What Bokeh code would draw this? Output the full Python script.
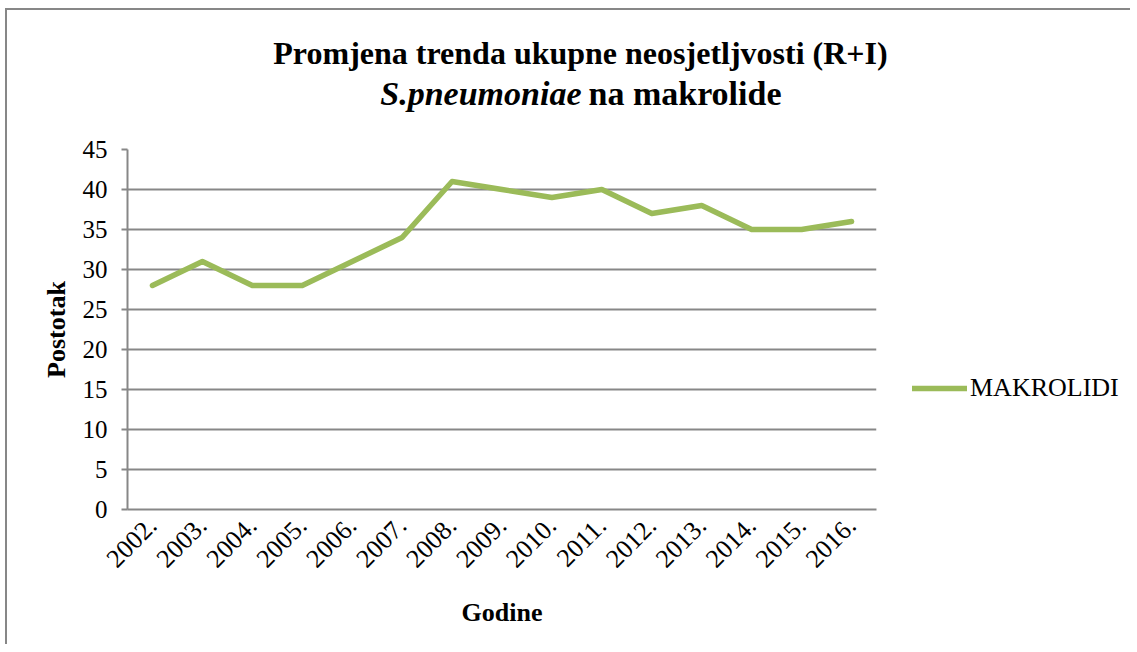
import math
from bokeh.plotting import figure
from bokeh.models import (FactorRange, Range1d, FixedTicker, Legend, LegendItem,
                          Label, ColumnDataSource)
from bokeh.embed import file_html
from bokeh.resources import INLINE

years = ["2002.", "2003.", "2004.", "2005.", "2006.", "2007.", "2008.", "2009.",
         "2010.", "2011.", "2012.", "2013.", "2014.", "2015.", "2016."]
makrolidi = [28, 31, 28, 28, 31, 34, 41, 40, 39, 40, 37, 38, 35, 35, 36]
y_ticks = [0, 5, 10, 15, 20, 25, 30, 35, 40, 45]
title_line1 = "Promjena trenda ukupne neosjetljvosti (R+I)"
title_line2_italic = "S.pneumoniae"
title_line2_rest = "na makrolide"

FONT = "Liberation Serif"
GRAY = "#878787"
GREEN = "#9BBB59"

W = 1125
TH = 129

# ---- title figure ----
tfig = figure(width=W, height=TH, output_backend="svg", toolbar_location=None,
              x_range=Range1d(0, W), y_range=Range1d(0, TH),
              min_border_left=0, min_border_right=0,
              min_border_top=0, min_border_bottom=0)
tfig.axis.visible = False
tfig.grid.visible = False
tfig.outline_line_color = None
tfig.background_fill_color = "white"
tfig.border_fill_color = "white"
tfig.styles = {"border-left": "2px solid #878787", "border-top": "2px solid #878787",
               "margin-left": "5px", "margin-top": "8px"}

t1 = Label(x=573, y=87, text=title_line1,
           text_font=FONT, text_font_size="32px", text_font_style="bold",
           text_align="center", text_baseline="alphabetic", text_color="black")
t2a = Label(x=574, y=46, text=title_line2_italic,
            text_font=FONT, text_font_size="34px", text_font_style="bold italic",
            text_align="right", text_baseline="alphabetic", text_color="black")
t2b = Label(x=581, y=46, text=title_line2_rest,
            text_font=FONT, text_font_size="34px", text_font_style="bold",
            text_align="left", text_baseline="alphabetic", text_color="black")
for t in (t1, t2a, t2b):
    tfig.add_layout(t)

# ---- main chart ----
p = figure(frame_width=749, frame_height=360, output_backend="svg",
           toolbar_location=None,
           x_range=FactorRange(factors=years, range_padding=0),
           y_range=Range1d(0, 45),
           min_border_left=120, min_border_right=256,
           min_border_top=12, min_border_bottom=135)
p.outline_line_color = None
p.background_fill_color = "white"
p.border_fill_color = "white"
p.styles = {"border-left": "2px solid #878787", "margin-left": "5px"}

src = ColumnDataSource(dict(x=years, y=makrolidi))
r = p.line("x", "y", source=src, line_color=GREEN, line_width=5.5,
           line_cap="round", line_join="round")

p.xgrid.grid_line_color = None
p.ygrid.grid_line_color = GRAY
p.ygrid.grid_line_width = 2
p.ygrid.ticker = FixedTicker(ticks=y_ticks)

p.yaxis.ticker = FixedTicker(ticks=y_ticks)
p.yaxis.axis_line_color = GRAY
p.yaxis.axis_line_width = 2
p.yaxis.major_tick_line_color = GRAY
p.yaxis.major_tick_line_width = 2
p.yaxis.major_tick_out = 6
p.yaxis.major_tick_in = 0
p.yaxis.minor_tick_line_color = None
p.yaxis.major_label_text_font = FONT
p.yaxis.major_label_text_font_size = "25px"
p.yaxis.major_label_text_color = "black"
p.yaxis.major_label_standoff = 14
p.yaxis.axis_label = "Postotak"
p.yaxis.axis_label_text_font = FONT
p.yaxis.axis_label_text_font_size = "26px"
p.yaxis.axis_label_text_font_style = "bold"
p.yaxis.axis_label_text_color = "black"
p.yaxis.axis_label_standoff = 9

p.xaxis.axis_line_color = GRAY
p.xaxis.axis_line_width = 2
p.xaxis.major_tick_line_color = None
p.xaxis.minor_tick_line_color = None
p.xaxis.major_label_orientation = math.pi / 4
p.xaxis.major_label_text_font = FONT
p.xaxis.major_label_text_font_size = "26px"
p.xaxis.major_label_text_color = "black"
p.xaxis.major_label_standoff = 6
p.xaxis.axis_label = "Godine"
p.xaxis.axis_label_text_font = FONT
p.xaxis.axis_label_text_font_size = "26px"
p.xaxis.axis_label_text_font_style = "bold"
p.xaxis.axis_label_text_color = "black"
p.xaxis.axis_label_standoff = 20

legend = Legend(items=[LegendItem(label="MAKROLIDI", renderers=[r])],
                location=(36, 106), orientation="vertical",
                border_line_color=None, background_fill_alpha=0,
                padding=0, margin=0, spacing=0,
                glyph_width=55, glyph_height=26, label_height=26,
                label_standoff=3,
                label_text_font=FONT, label_text_font_size="26px",
                label_text_color="black")
try:
    legend.margin = -198
except Exception:
    legend.margin = 0
p.add_layout(legend, "right")

open("out.html", "w").write(file_html([tfig, p], INLINE))
